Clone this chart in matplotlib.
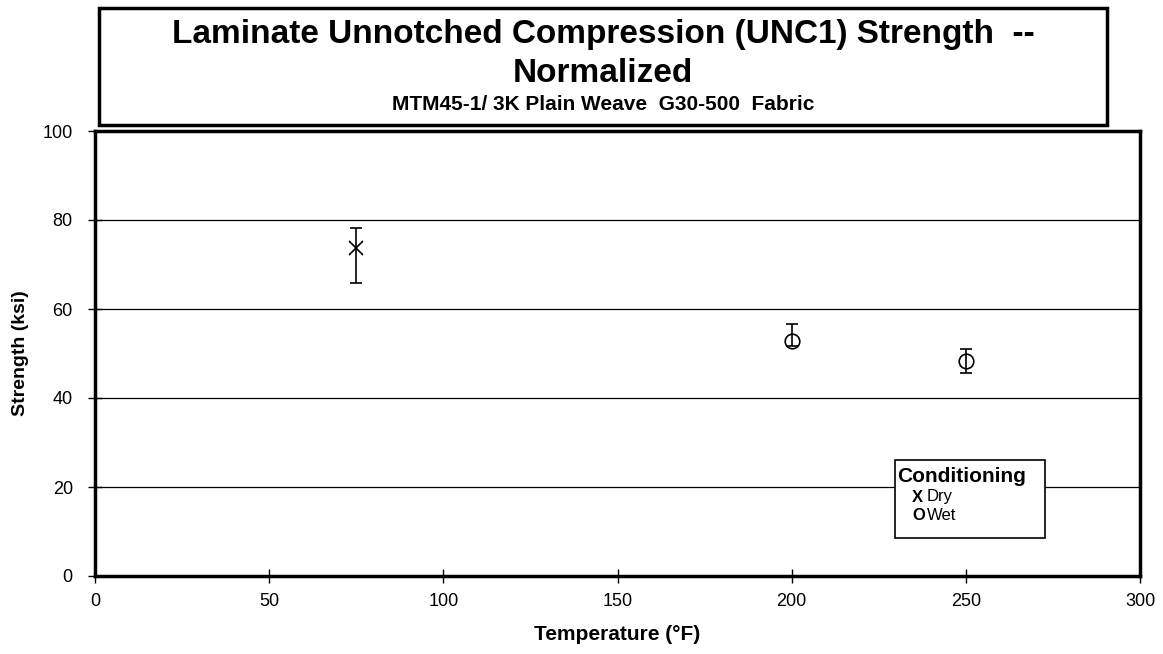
import matplotlib
matplotlib.use("Agg")
import matplotlib.pyplot as plt
from matplotlib.patches import Rectangle

plt.rcParams['font.family'] = ['Liberation Sans', 'DejaVu Sans']

# Data
dry_temp = [75]
dry_mean = [73.8]
dry_low = [65.8]
dry_high = [78.2]

wet_temp = [200, 250]
wet_mean = [52.8, 48.4]
wet_low = [51.6, 45.6]
wet_high = [56.6, 51.0]

x_ticks = [0, 50, 100, 150, 200, 250, 300]
y_ticks = [0, 20, 40, 60, 80, 100]

title = "Laminate Unnotched Compression (UNC1) Strength  --"
title2 = "Normalized"
subtitle = "MTM45-1/ 3K Plain Weave  G30-500  Fabric"
legend_title = "Conditioning"
legend_items = [("X", "Dry"), ("O", "Wet")]

W, H = 1163, 654
fig = plt.figure(figsize=(W / 100, H / 100), dpi=100)

def fx(px):
    return px / W

def fy(py):
    return 1 - py / H

ax = fig.add_axes([fx(95), fy(576), fx(1140) - fx(95), fy(131) - fy(576)])

def err(mean, low, high):
    return [[m - l for m, l in zip(mean, low)], [h - m for m, h in zip(mean, high)]]

ax.errorbar(dry_temp, dry_mean, yerr=err(dry_mean, dry_low, dry_high), fmt='x',
            color='black', ms=10, mew=1.2, elinewidth=1.2, capsize=4, capthick=1.2,
            zorder=3)
ax.errorbar(wet_temp, wet_mean, yerr=err(wet_mean, wet_low, wet_high), fmt='o',
            color='black', mfc='none', ms=10.5, mew=1.2, elinewidth=1.2, capsize=4.5,
            capthick=1.2, zorder=3)

ax.set_xlim(0, 300)
ax.set_ylim(0, 100)
ax.set_xticks(x_ticks)
ax.set_yticks(y_ticks)
ax.yaxis.grid(True, color='black', linewidth=0.9)
ax.set_axisbelow(True)
for s in ax.spines.values():
    s.set_linewidth(2.5)
ax.tick_params(axis='both', direction='inout', length=10, width=1, labelsize=13,
               colors='black')
ax.tick_params(axis='x', pad=7)
ax.tick_params(axis='y', pad=11)
ax.set_xlabel("Temperature (°F)", fontsize=15, fontweight='bold', labelpad=11)
ax.set_ylabel("Strength (ksi)", fontsize=14, fontweight='bold', labelpad=10)

# Title box
fig.patches.append(Rectangle((fx(99), fy(125)), fx(1107) - fx(99), fy(8) - fy(125),
                             transform=fig.transFigure, fill=False, edgecolor='black',
                             linewidth=2.5))
cx = fx((99 + 1107) / 2)
fig.text(cx, fy(34), title, ha='center', va='center', fontsize=24, fontweight='bold')
fig.text(cx, fy(74), title2, ha='center', va='center', fontsize=24, fontweight='bold')
fig.text(cx, fy(105), subtitle, ha='center', va='center', fontsize=15,
         fontweight='bold')

# Legend box
fig.patches.append(Rectangle((fx(895), fy(538)), fx(1045) - fx(895), fy(460) - fy(538),
                             transform=fig.transFigure, facecolor='white',
                             edgecolor='none', zorder=4))
fig.patches.append(Rectangle((fx(895), fy(538)), fx(1045) - fx(895), fy(460) - fy(538),
                             transform=fig.transFigure, fill=False, edgecolor='black',
                             linewidth=1.2, zorder=5))
fig.text(fx(897), fy(477), legend_title, ha='left', va='center', fontsize=15,
         fontweight='bold', zorder=6)
for i, (sym, lab) in enumerate(legend_items):
    yy = fy(497 + i * 19)
    fig.text(fx(912), yy, sym, ha='left', va='center', fontsize=12, fontweight='bold',
             zorder=6)
    fig.text(fx(927), yy, lab, ha='left', va='center', fontsize=12, zorder=6)

fig.savefig("out.png", dpi=100)
